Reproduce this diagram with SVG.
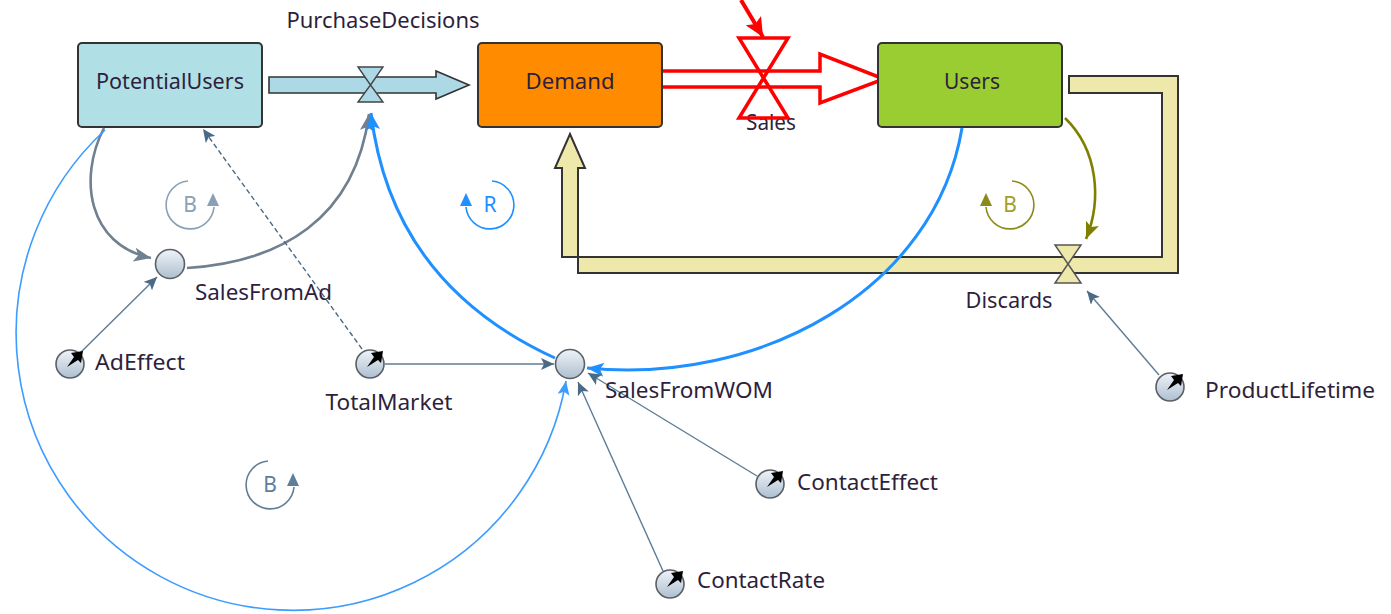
<svg xmlns="http://www.w3.org/2000/svg" width="1391" height="614" viewBox="0 0 1391 614">
  <style>
    .lbl { font-family: "Noto Sans", "Open Sans", "Liberation Sans", sans-serif; font-size: 21px; fill: #2e1f3d; }
    .stock { stroke: #333; stroke-width: 2; }
    .aux { fill: url(#auxFill); stroke: #5b5f66; stroke-width: 1.6; }
    .thin { fill: none; stroke: #5c7c96; stroke-width: 1.4; }
    .loopTxt { font-family: "Noto Sans", "Open Sans", "Liberation Sans", sans-serif; font-size: 21px; text-anchor: middle; }
  </style>
  <defs>
    <linearGradient id="auxFill" x1="0" y1="0" x2="0" y2="1">
      <stop offset="0" stop-color="#eef3f8"/>
      <stop offset="1" stop-color="#aebfcf"/>
    </linearGradient>
    <marker id="arSlate" markerUnits="userSpaceOnUse" markerWidth="14" markerHeight="12" refX="13" refY="6" orient="auto">
      <path d="M0,0 L13,6 L0,12 L3,6 Z" fill="#4a6a85"/>
    </marker>
    <marker id="arGray" markerUnits="userSpaceOnUse" markerWidth="18" markerHeight="14" refX="17" refY="7" orient="auto">
      <path d="M0,0 L17,7 L0,14 L4,7 Z" fill="#708090"/>
    </marker>
    <marker id="arBlue" markerUnits="userSpaceOnUse" markerWidth="18" markerHeight="14" refX="17" refY="7" orient="auto">
      <path d="M0,0 L17,7 L0,14 L4,7 Z" fill="#1e90ff"/>
    </marker>
    <marker id="arBlueThin" markerUnits="userSpaceOnUse" markerWidth="15" markerHeight="12" refX="14" refY="6" orient="auto">
      <path d="M0,0 L14,6 L0,12 L3,6 Z" fill="#3c9cff"/>
    </marker>
    <marker id="arOlive" markerUnits="userSpaceOnUse" markerWidth="18" markerHeight="14" refX="17" refY="7" orient="auto">
      <path d="M0,0 L17,7 L0,14 L4,7 Z" fill="#808000"/>
    </marker>
    <marker id="arRed" markerUnits="userSpaceOnUse" markerWidth="20" markerHeight="18" refX="19" refY="9" orient="auto">
      <path d="M0,0 L19,9 L0,18 L4,9 Z" fill="#ff0000"/>
    </marker>
    <!-- pointer glyph used on constant parameters -->
    <path id="needle" d="M-3,3 L4,-7 L1,-11 L13,-13 L11,-1 L8,-4 Z" fill="#000"/>
  </defs>

  <rect width="1391" height="614" fill="#fff"/>

  <!-- flows (pipes and valves) -->
  <g id="flow-PurchaseDecisions">
    <polygon points="269,77 436,77 436,71 469,85 436,99 436,93 269,93" fill="#add8e6" stroke="#333" stroke-width="1.6"/>
    <polygon points="358,67 383,67 370.5,85 383,102 358,102 370.5,85" fill="#add8e6" stroke="#444" stroke-width="1.4"/>
    <text class="lbl" x="383" y="28" text-anchor="middle" textLength="193" lengthAdjust="spacingAndGlyphs">PurchaseDecisions</text>
  </g>

  <g id="flow-Discards">
    <polygon points="1069,76 1178,76 1178,273 578,273 578,168 585,168 570,134 555,168 562,168 562,257 1162,257 1162,93 1069,93" fill="#eee8aa" stroke="#333" stroke-width="2"/>
    <polygon points="1055,245 1081,245 1068,264 1081,283 1055,283 1068,264" fill="#eee8aa" stroke="#555" stroke-width="1.5"/>
    <text class="lbl" x="1009" y="308" text-anchor="middle" textLength="87" lengthAdjust="spacingAndGlyphs">Discards</text>
  </g>

  <g id="flow-Sales">
    <text class="lbl" x="771" y="130" text-anchor="middle" textLength="50" lengthAdjust="spacingAndGlyphs">Sales</text>
    <polygon points="658,71 820,71 820,54 884,79 820,103 820,87 658,87" fill="#fff" stroke="#ff0000" stroke-width="3.5" stroke-linejoin="miter"/>
    <polygon points="739,38 788,38 763.5,78 788,118 739,118 763.5,78" fill="none" stroke="#ff0000" stroke-width="3.5"/>
    <line x1="741" y1="0" x2="763" y2="37" stroke="#ff0000" stroke-width="4" marker-end="url(#arRed)"/>
  </g>

  <!-- stocks -->
  <g id="stock-PotentialUsers">
    <rect class="stock" x="78" y="43" width="184" height="84" rx="4" fill="#b0e0e6"/>
    <text class="lbl" x="170" y="89" text-anchor="middle" textLength="148" lengthAdjust="spacingAndGlyphs">PotentialUsers</text>
  </g>
  <g id="stock-Demand">
    <rect class="stock" x="478" y="43" width="184" height="84" rx="4" fill="#ff8c00"/>
    <text class="lbl" x="570" y="89" text-anchor="middle" textLength="89" lengthAdjust="spacingAndGlyphs">Demand</text>
  </g>
  <g id="stock-Users">
    <rect class="stock" x="878" y="43" width="184" height="84" rx="4" fill="#9acd32"/>
    <text class="lbl" x="972" y="89" text-anchor="middle" textLength="56" lengthAdjust="spacingAndGlyphs">Users</text>
  </g>

  <!-- causal links -->
  <g id="links">
    <path d="M104,128 C78,178 88,245 151,258" fill="none" stroke="#708090" stroke-width="2.6" marker-end="url(#arGray)"/>
    <path d="M187,268 C280,262 355,220 369,114" fill="none" stroke="#708090" stroke-width="2.6" marker-end="url(#arGray)"/>
    <path d="M555,358 C450,310 385,230 371,113" fill="none" stroke="#1e90ff" stroke-width="3" marker-end="url(#arBlue)"/>
    <path d="M962,128 C935,290 760,385 587,368" fill="none" stroke="#1e90ff" stroke-width="3" marker-end="url(#arBlue)"/>
    <path d="M105,130 A277,277 0 1 0 566,381" fill="none" stroke="#3c9cff" stroke-width="1.6" marker-end="url(#arBlueThin)"/>
    <path d="M1065,118 C1098,150 1102,200 1086,239" fill="none" stroke="#808000" stroke-width="2.6" marker-end="url(#arOlive)"/>
    <line x1="362" y1="349" x2="203" y2="129" stroke="#4a6a85" stroke-width="1.4" stroke-dasharray="5,3" marker-end="url(#arSlate)"/>
    <line class="thin" x1="76" y1="357" x2="157" y2="277" marker-end="url(#arSlate)"/>
    <line class="thin" x1="385" y1="364" x2="554" y2="364" marker-end="url(#arSlate)"/>
    <line class="thin" x1="757" y1="476" x2="588" y2="373" marker-end="url(#arSlate)"/>
    <line class="thin" x1="663" y1="571" x2="578" y2="382" marker-end="url(#arSlate)"/>
    <line class="thin" x1="1159" y1="375" x2="1087" y2="291" marker-end="url(#arSlate)"/>
  </g>

  <!-- loop markers -->
  <g id="loop-B1" stroke="#8aa0b4" fill="#8aa0b4">
    <path d="M188,181 A24,24 0 1 0 214,207" fill="none" stroke-width="1.6"/>
    <polygon points="207,206 219,206 213,193" stroke="none"/>
    <text class="loopTxt" x="190" y="212" stroke="none">B</text>
  </g>
  <g id="loop-R" stroke="#1e90ff" fill="#1e90ff">
    <path d="M492,181 A24,24 0 1 1 466,207" fill="none" stroke-width="1.6"/>
    <polygon points="460,206 472,206 466,193" stroke="none"/>
    <text class="loopTxt" x="490" y="212" stroke="none">R</text>
  </g>
  <g id="loop-B2" stroke="#8b8b1a" fill="#8b8b1a">
    <path d="M1012,181 A24,24 0 1 1 986,207" fill="none" stroke-width="1.6"/>
    <polygon points="980,206 992,206 986,193" stroke="none"/>
    <text class="loopTxt" x="1010" y="212" stroke="none" fill="#a5a020">B</text>
  </g>
  <g id="loop-B3" stroke="#5f7f99" fill="#5f7f99">
    <path d="M268,461 A24,24 0 1 0 294,487" fill="none" stroke-width="1.6"/>
    <polygon points="287,486 299,486 293,473" stroke="none"/>
    <text class="loopTxt" x="270" y="492" stroke="none">B</text>
  </g>

  <!-- auxiliaries -->
  <g id="aux-SalesFromAd">
    <circle class="aux" cx="170" cy="264" r="14.5"/>
    <text class="lbl" x="195" y="300" textLength="137" lengthAdjust="spacingAndGlyphs">SalesFromAd</text>
  </g>
  <g id="aux-SalesFromWOM">
    <circle class="aux" cx="570" cy="364" r="14.5"/>
    <text class="lbl" x="605" y="398" textLength="168" lengthAdjust="spacingAndGlyphs">SalesFromWOM</text>
  </g>

  <!-- constants -->
  <g id="const-AdEffect">
    <circle class="aux" cx="70" cy="364" r="14"/>
    <use href="#needle" x="70" y="364"/>
    <text class="lbl" x="95" y="370" textLength="90" lengthAdjust="spacingAndGlyphs">AdEffect</text>
  </g>
  <g id="const-TotalMarket">
    <circle class="aux" cx="370" cy="364" r="14"/>
    <use href="#needle" x="370" y="364"/>
    <text class="lbl" x="389" y="410" text-anchor="middle" textLength="127" lengthAdjust="spacingAndGlyphs">TotalMarket</text>
  </g>
  <g id="const-ContactEffect">
    <circle class="aux" cx="770" cy="484" r="14"/>
    <use href="#needle" x="770" y="484"/>
    <text class="lbl" x="797" y="490" textLength="141" lengthAdjust="spacingAndGlyphs">ContactEffect</text>
  </g>
  <g id="const-ContactRate">
    <circle class="aux" cx="670" cy="584" r="14"/>
    <use href="#needle" x="670" y="584"/>
    <text class="lbl" x="697" y="588" textLength="128" lengthAdjust="spacingAndGlyphs">ContactRate</text>
  </g>
  <g id="const-ProductLifetime">
    <circle class="aux" cx="1170" cy="387" r="14"/>
    <use href="#needle" x="1170" y="387"/>
    <text class="lbl" x="1205" y="398" textLength="170" lengthAdjust="spacingAndGlyphs">ProductLifetime</text>
  </g>
</svg>
